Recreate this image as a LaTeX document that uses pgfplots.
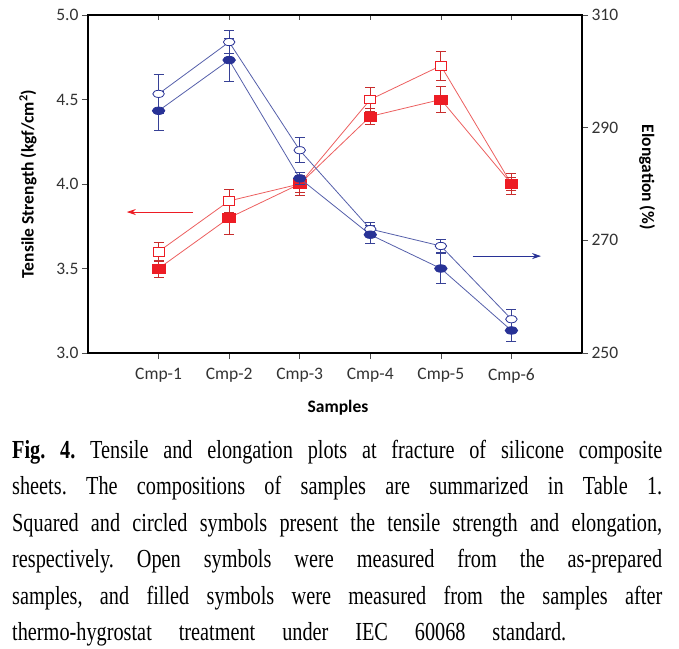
\documentclass[border=0pt]{standalone}
\usepackage{fontspec}
\setmainfont{Carlito}
\newfontfamily\capfont[FakeStretch=0.78]{Liberation Serif}
\usepackage{pgfplots}
\pgfplotsset{compat=1.18}
\usetikzlibrary{arrows.meta}
\definecolor{rmark}{RGB}{237,28,36}
\definecolor{rline}{RGB}{236,95,95}
\definecolor{rerr}{RGB}{200,45,45}
\definecolor{bmark}{RGB}{40,50,150}
\definecolor{bline}{RGB}{85,95,170}
\definecolor{berr}{RGB}{55,65,150}

\begin{document}
\begin{tikzpicture}
\useasboundingbox (0,0) rectangle (679pt,-648pt);
\pgfplotsset{
  base/.style={
    at={(88pt,-353pt)}, anchor=south west,
    scale only axis, width=494pt, height=338pt,
    xmin=0, xmax=7, xtick={1,2,3,4,5,6},
    tick label style={font=\fontsize{17.5}{20}\selectfont, text=black!80},
    label style={font=\bfseries\fontsize{17.5}{20}\selectfont},
    /pgf/number format/assume math mode=true,
    major tick length=6pt,
    clip=false,
  },
  rerrs/.style={error bars/.cd, y dir=both, y explicit,
    error bar style={line width=0.8pt, rerr},
    error mark options={rotate=90, mark size=5pt, line width=0.8pt, rerr}},
  berrs/.style={error bars/.cd, y dir=both, y explicit,
    error bar style={line width=0.8pt, berr},
    error mark options={rotate=90, mark size=5pt, line width=0.8pt, berr}},
}
% left axis: tensile strength
\begin{axis}[base,
  ymin=3, ymax=5, ytick={3,3.5,4,4.5,5},
  yticklabel style={/pgf/number format/.cd, fixed, fixed zerofill, precision=1},
  xticklabels={Cmp-1,Cmp-2,Cmp-3,Cmp-4,Cmp-5,Cmp-6},
  xticklabel style={yshift=-6pt},
  xtick pos=bottom, ytick pos=left, tick align=outside,
  axis line style={line width=1.3pt},
  tick style={line width=0.6pt, black!70},
  ylabel={Tensile Strength (kgf/cm$^{\mathbf{2}}$)},
  ylabel style={at={(axis description cs:-0.1215,0.5)}, anchor=center},
  xlabel={Samples},
  xlabel style={at={(axis description cs:0.506,-0.163)}, anchor=center},
]
\addplot[rline, line width=0.8pt, mark=square*, mark size=4.8pt,
  mark options={xscale=1.15, yscale=0.9, fill=white, draw=rmark, line width=0.8pt}, rerrs]
  coordinates {(1,3.6) +- (0,0.055) (2,3.9) +- (0,0.07) (3,4.0) +- (0,0.05)
               (4,4.5) +- (0,0.07) (5,4.7) +- (0,0.085) (6,4.0) +- (0,0.04)};
\addplot[rline, line width=0.8pt, mark=square*, mark size=5.3pt,
  mark options={xscale=1.2, yscale=0.85, fill=rmark, draw=rmark}, rerrs]
  coordinates {(1,3.5) +- (0,0.05) (2,3.8) +- (0,0.1) (3,4.0) +- (0,0.07)
               (4,4.4) +- (0,0.045) (5,4.5) +- (0,0.075) (6,4.0) +- (0,0.06)};
\draw[rmark, line width=0.9pt, -{Stealth[length=9pt, width=6pt]}]
  (axis cs:1.49,3.834) -- (axis cs:0.55,3.834);
\end{axis}
% top inside ticks
\begin{axis}[base, ymin=3, ymax=5, hide y axis, axis x line*=top,
  xticklabels={}, tick align=inside, major tick length=5pt,
  axis line style={line width=1.3pt, -}, tick style={line width=0.6pt, black!70}]
\end{axis}
% right axis: elongation
\begin{axis}[base,
  ymin=250, ymax=310, ytick={250,270,290,310},
  axis x line=none, axis y line*=right, tick align=outside,
  axis line style={line width=1.3pt, -},
  tick style={line width=0.6pt, black!70},
  ylabel={Elongation (\%)},
  ylabel style={at={(axis description cs:1.1316,0.52)}, anchor=center, rotate=180},
]
\addplot[bline, line width=0.8pt, mark=*, mark size=4.8pt,
  mark options={xscale=1.2, yscale=0.75, fill=white, draw=bmark, line width=0.8pt}, berrs]
  coordinates {(1,296) +- (0,3.5) (2,305.2) +- (0,2) (3,286) +- (0,2.2)
               (4,272) +- (0,1.2) (5,269) +- (0,1.2) (6,256) +- (0,1.7)};
\addplot[bline, line width=0.8pt, mark=*, mark size=5pt,
  mark options={xscale=1.25, yscale=0.75, fill=bmark, draw=bmark}, berrs]
  coordinates {(1,293) +- (0,3.5) (2,302) +- (0,3.8) (3,281) +- (0,1)
               (4,271) +- (0,1.6) (5,265) +- (0,2.6) (6,254) +- (0,1.9)};
\draw[bmark, line width=0.9pt, -{Stealth[length=9pt, width=6pt]}]
  (axis cs:5.45,267.2) -- (axis cs:6.42,267.2);
\end{axis}
% caption
\node[anchor=base west, inner sep=0pt] at (12pt,-458pt) {\parbox[t]{650pt}{%
  \capfont\fontsize{26}{36.5}\selectfont\frenchspacing\setlength{\parindent}{0pt}%
  \makebox[650pt][s]{\textbf{Fig. 4.} Tensile and elongation plots at fracture of silicone composite}\\
  \makebox[650pt][s]{sheets. The compositions of samples are summarized in Table 1.}\\
  \makebox[650pt][s]{Squared and circled symbols present the tensile strength and elongation,}\\
  \makebox[650pt][s]{respectively. Open symbols were measured from the as-prepared}\\
  \makebox[650pt][s]{samples, and filled symbols were measured from the samples after}\\
  \makebox[554pt][s]{thermo-hygrostat treatment under IEC 60068 standard.}}};
\end{tikzpicture}
\end{document}
